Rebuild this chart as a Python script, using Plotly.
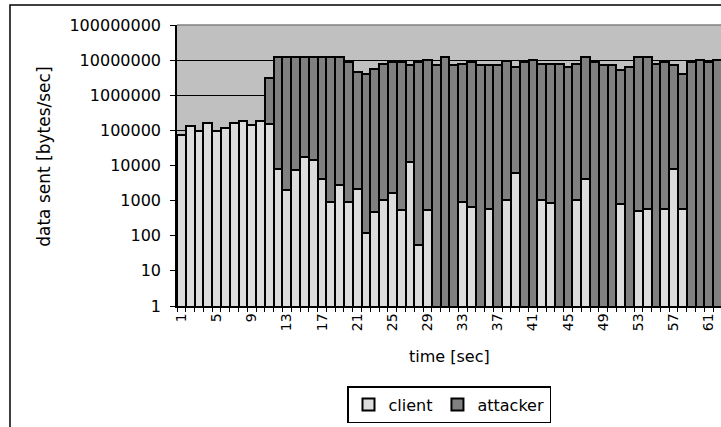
import plotly.graph_objects as go

# ---- data ----
seconds = list(range(1, 63))
client = [74000, 135000, 96000, 158000, 94000, 115000, 160000, 190000, 140000, 182000,
          155000, 7800, 2000, 7500, 17000, 14500, 4200, 920, 2700, 900,
          2200, 120, 480, 1050, 1700, 550, 12800, 56, 550, 0,
          0, 0, 900, 660, 0, 570, 0, 1050, 6000, 0,
          0, 1050, 880, 0, 0, 1050, 4100, 0, 0, 0,
          780, 0, 510, 570, 0, 570, 7800, 570, 0, 0,
          0, 0]
attacker = [0, 0, 0, 0, 0, 0, 0, 0, 0, 0,
            2850000, 12000000, 12000000, 12000000, 12000000, 12000000, 12000000, 12000000, 12000000, 9000000,
            4700000, 3900000, 5500000, 7600000, 8700000, 8700000, 7400000, 8700000, 9800000, 7400000,
            12200000, 7500000, 8000000, 9100000, 7400000, 7400000, 7400000, 9300000, 6500000, 9100000,
            9800000, 8000000, 7800000, 7800000, 6300000, 7700000, 12300000, 9100000, 7400000, 7400000,
            5200000, 6300000, 12300000, 12300000, 7800000, 9100000, 7400000, 4100000, 9100000, 9800000,
            8800000, 9800000]
y_tick_vals = [1, 10, 100, 1000, 10000, 100000, 1000000, 10000000, 100000000]
y_tick_text = ["1", "10", "100", "1000", "10000", "100000", "1000000", "10000000", "100000000"]
x_tick_labels = [str(s) if (s - 1) % 4 == 0 else "" for s in seconds]

FONT = "DejaVu Sans"

fig = go.Figure()
fig.add_trace(go.Bar(x=seconds, y=client, name="client",
                     marker=dict(color="#DCDCDC", line=dict(color="black", width=2))))
fig.add_trace(go.Bar(x=seconds, y=[a if a > 0 else None for a in attacker], name="attacker",
                     marker=dict(color="#808080", line=dict(color="black", width=2))))

fig.update_layout(
    width=721, height=427,
    margin=dict(l=177, r=0, t=25, b=121),
    barmode="stack", bargap=0,
    paper_bgcolor="white", plot_bgcolor="#C0C0C0",
    font=dict(family=FONT, color="black"),
    showlegend=True,
    legend=dict(orientation="h", x=0.5, xanchor="center", y=-0.285, yanchor="top",
                traceorder="normal",
                bordercolor="black", borderwidth=1.5, bgcolor="white",
                font=dict(size=16, family=FONT), itemwidth=30),
)
fig.update_yaxes(type="log", range=[0, 8],
                 tickmode="array", tickvals=y_tick_vals, ticktext=y_tick_text,
                 ticks="outside", ticklen=5, tickcolor="black", tickwidth=1,
                 ticklabelstandoff=6,
                 showline=True, linecolor="black", linewidth=1.5,
                 showgrid=True, gridcolor="black", gridwidth=1,
                 tickfont=dict(size=16, family=FONT), zeroline=False)
fig.update_xaxes(range=[0.5, 62.4],
                 tickmode="array", tickvals=seconds, ticktext=x_tick_labels,
                 tickangle=-90, ticks="", ticklen=0,
                 minor=dict(tickmode="array", tickvals=[s + 0.5 for s in [0] + seconds],
                            ticks="outside", ticklen=4, tickcolor="black", tickwidth=1),
                 showline=True, linecolor="black", linewidth=1.5,
                 showgrid=False, tickfont=dict(size=14, family=FONT), zeroline=False)

# axis titles
fig.add_annotation(text="data sent [bytes/sec]", xref="paper", yref="paper",
                   x=-0.245, y=0.53, textangle=-90, showarrow=False,
                   xanchor="center", yanchor="middle", font=dict(size=17, family=FONT))
fig.add_annotation(text="time [sec]", xref="paper", yref="paper",
                   x=0.5, y=-0.18, showarrow=False,
                   xanchor="center", yanchor="middle", font=dict(size=16, family=FONT))

# plot-area top border and outer chart frame
fig.add_shape(type="line", xref="paper", yref="paper", x0=0, x1=1, y0=1, y1=1,
              line=dict(color="#808080", width=1.5))
fig.add_shape(type="rect", xref="paper", yref="paper", x0=-0.307, x1=1.2, y0=-0.6, y1=1.0712,
              line=dict(color="black", width=1.5), fillcolor="rgba(0,0,0,0)", layer="above")

fig.write_html("out.html",
               config={"displayModeBar": False},
               post_script="document.body.style.margin='0';document.body.style.overflow='hidden';")
